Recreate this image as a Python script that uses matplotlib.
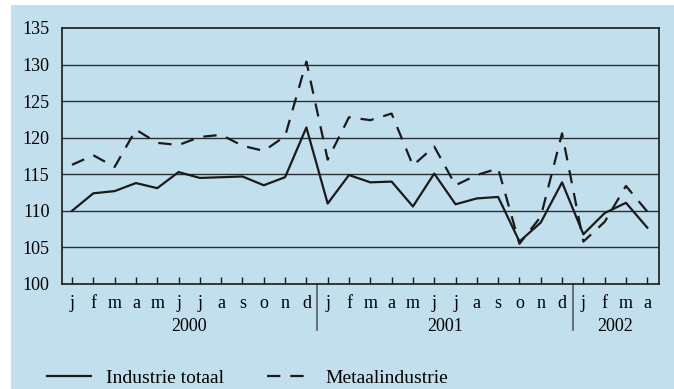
import matplotlib.pyplot as plt
import matplotlib.transforms as transforms
from matplotlib.patches import Rectangle
from matplotlib.lines import Line2D

plt.rcParams['font.family'] = ['Liberation Serif', 'DejaVu Serif']

# monthly index, jan 2000 - apr 2002
months = ['j', 'f', 'm', 'a', 'm', 'j', 'j', 'a', 's', 'o', 'n', 'd'] * 2 + ['j', 'f', 'm', 'a']
years = ['2000', '2001', '2002']
year_centres = [5.5, 17.5, 25.5]
year_breaks = [11.5, 23.5]

industrie_totaal = [110.0, 112.4, 112.7, 113.8, 113.1, 115.3, 114.5, 114.6, 114.7, 113.5, 114.6, 121.4,
                    111.0, 114.9, 113.9, 114.0, 110.6, 115.1, 110.9, 111.7, 111.9, 105.8, 108.4, 113.9,
                    106.8, 109.7, 111.1, 107.7]
metaalindustrie = [116.3, 117.6, 116.0, 121.1, 119.3, 119.0, 120.1, 120.4, 118.9, 118.2, 120.2, 130.4,
                   117.0, 122.8, 122.4, 123.3, 116.2, 118.8, 113.5, 114.9, 115.8, 105.5, 109.2, 120.6,
                   105.8, 108.5, 113.4, 109.9]

bg = '#c2dfee'
fs = 13

fig = plt.figure(figsize=(6.74, 3.89), dpi=100, facecolor='white')
fig.patches.append(Rectangle((11 / 674, 0), 1 - 11 / 674, (389 - 5) / 389,
                             transform=fig.transFigure, facecolor=bg, edgecolor='none', zorder=-10))

ax = fig.add_axes([62 / 674, (389 - 284) / 389, (659 - 62) / 674, (284 - 28) / 389])
ax.set_facecolor(bg)

x = list(range(len(months)))
ax.plot(x, industrie_totaal, color='#1a1a1a', lw=1.6, label='Industrie totaal', zorder=3)
ax.plot(x, metaalindustrie, color='#1a1a1a', lw=1.6, dashes=(6, 4.5), label='Metaalindustrie', zorder=3)

ax.set_xlim(-0.47, 27.55)
ax.set_ylim(100, 135)
ax.set_yticks(range(100, 136, 5))
for v in range(105, 135, 5):
    ax.axhline(v, color='#2a2f33', lw=1.0, zorder=1)

for s in ax.spines.values():
    s.set_color('#1a1a1a')
    s.set_linewidth(1.2)

ax.set_xticks(x)
ax.set_xticklabels(months)
ax.tick_params(axis='x', direction='in', length=5, width=1, color='#1a1a1a', pad=8, labelsize=fs)
ax.tick_params(axis='y', length=0, pad=9, labelsize=fs)

trans = transforms.blended_transform_factory(ax.transData, ax.transAxes)
for xb in year_breaks:
    ax.add_line(Line2D([xb, xb], [0, -0.18], transform=trans, color='#555a5e', lw=1.2, clip_on=False))
for yr, xc in zip(years, year_centres):
    ax.text(xc, -0.165, yr, transform=trans, ha='center', va='center', fontsize=fs)

fig.legend(loc='center left', bbox_to_anchor=(29 / 674, 11 / 389), ncol=2, frameon=False,
           fontsize=fs + 1, handlelength=2.3, handletextpad=0.75, columnspacing=2.2)

fig.savefig('out.png', dpi=100, facecolor='white')
